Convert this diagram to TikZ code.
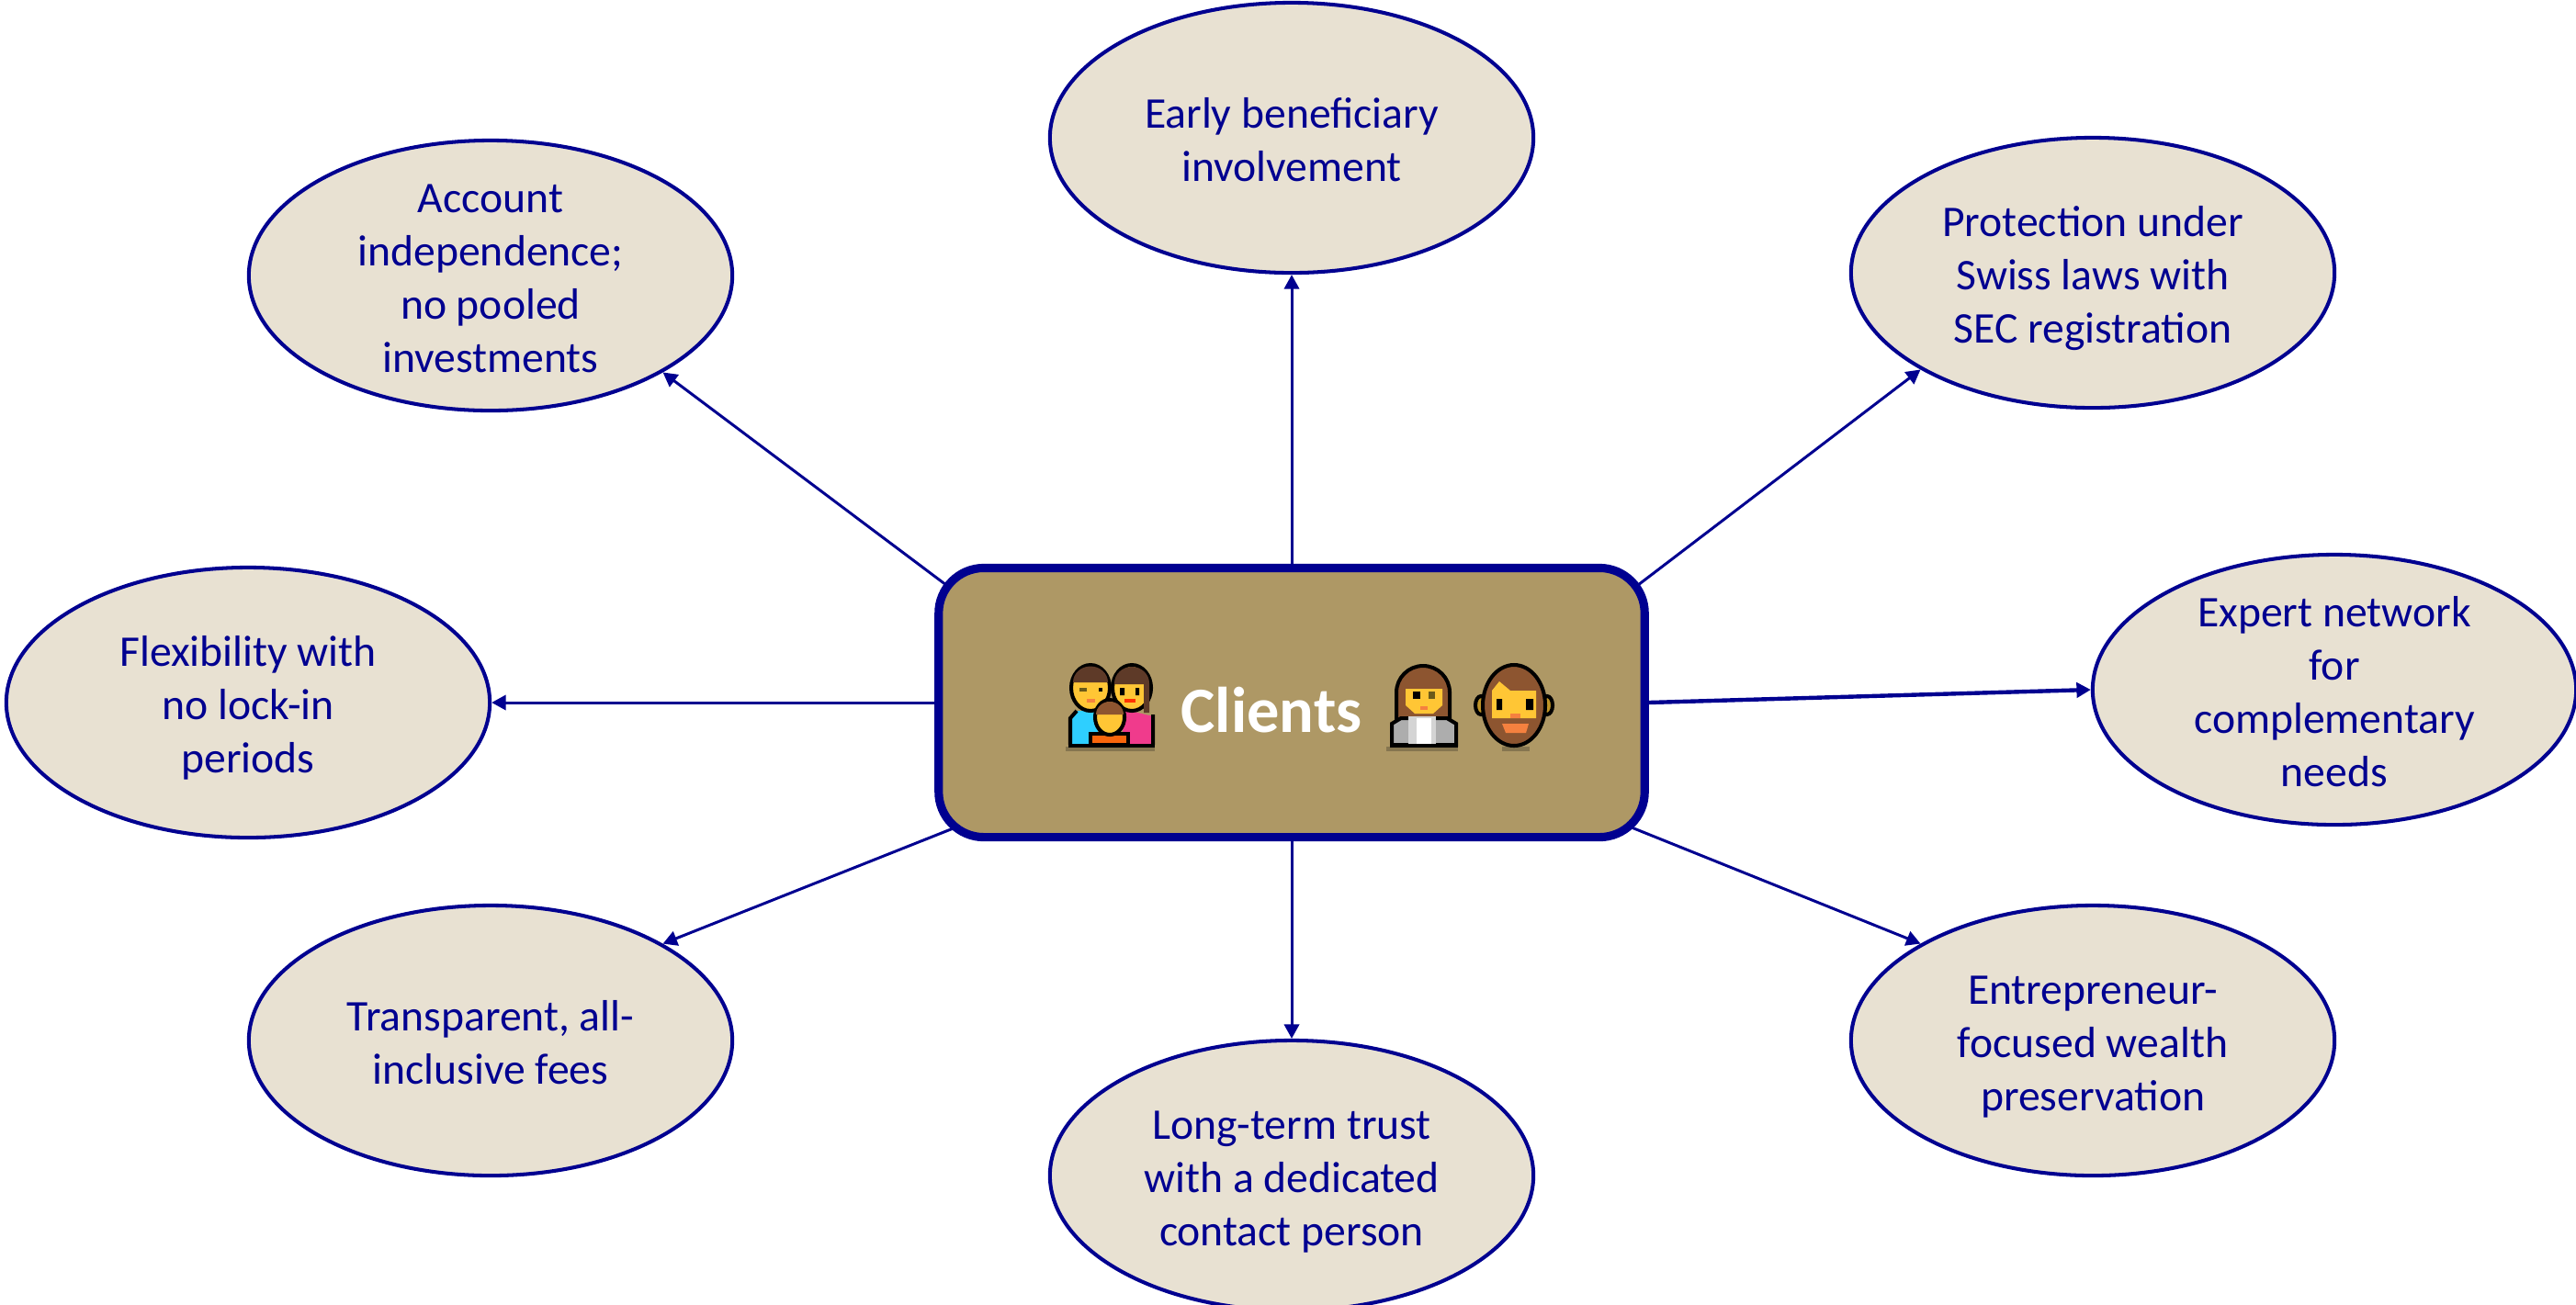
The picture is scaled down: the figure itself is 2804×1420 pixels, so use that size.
\documentclass[tikz,border=0pt]{standalone}
\usepackage{fontspec}
\setmainfont{Carlito}
\usetikzlibrary{arrows.meta,shapes.geometric}
\definecolor{navy}{HTML}{000090}
\definecolor{boxfill}{HTML}{AE9865}
\definecolor{ovalfill}{HTML}{E8E1D2}
\definecolor{skin}{HTML}{FFC635}
\definecolor{hairA}{HTML}{5E3A28}
\definecolor{hairB}{HTML}{8D5530}
\definecolor{shirtB}{HTML}{2ECFFF}
\definecolor{shirtP}{HTML}{F03B8C}
\definecolor{shirtO}{HTML}{F9660C}
\definecolor{nosec}{HTML}{F5813F}
\definecolor{dropc}{HTML}{85754F}
\definecolor{eyeo}{HTML}{6B5A1A}
\newcommand\topfix{\rule{0pt}{13.5pt}}
\newcommand\botfix{\rule[-3pt]{0pt}{3pt}}
\tikzset{
  oval/.style={draw=navy,fill=ovalfill,ellipse,line width=1.15pt,minimum width=5.26cm,minimum height=2.94cm,inner xsep=0pt,inner ysep=-14pt,align=center,text=navy,font=\fontsize{13.55pt}{16.5pt}\selectfont},
  hub/.style={draw=navy,fill=boxfill,line width=2.6pt,rounded corners=14pt,minimum width=7.68cm,minimum height=2.93cm,inner sep=0pt},
  link/.style={draw=navy,line width=0.85pt,-{Triangle[length=4.4pt,width=4.6pt]}},
  linkbold/.style={link,line width=1.25pt},
  ol/.style={draw=black,line width=1.15pt},
}
\begin{document}
\begin{tikzpicture}[x=0.01cm,y=-0.01cm]
\useasboundingbox (0,0) rectangle (2804,1420);
\clip (0,0) rectangle (2804,1420);
\node[oval] (t) at (1406,150) {\topfix Early beneficiary\\involvement\botfix};
\node[oval] (tl) at (534,300) {\topfix Account\\independence;\\no pooled\\investments\botfix};
\node[oval] (tr) at (2278,297) {\topfix Protection under\\Swiss laws with\\SEC registration\botfix};
\node[oval] (r) at (2541,751) {\topfix Expert network\\for\\complementary\\needs\botfix};
\node[oval] (l) at (270,765) {\topfix Flexibility with\\no lock-in\\periods\botfix};
\node[oval] (bl) at (534,1133) {\topfix Transparent, all-\\inclusive fees\botfix};
\node[oval] (br) at (2278,1133) {\topfix Entrepreneur-\\focused wealth\\preservation\botfix};
\node[oval] (b) at (1406,1280) {\topfix Long-term trust\\with a dedicated\\contact person\botfix};
\node[hub] (hub) at (1406,765) {};
\coordinate (c1) at (1030,637);
\coordinate (c2) at (1783,637);
\coordinate (c3) at (1040,901);
\coordinate (c4) at (1776,901);
\draw[link] (hub.north) -- (t.south);
\draw[link] (c1) -- (tl.south east);
\draw[link] (c2) -- (tr.south west);
\draw[linkbold] (hub.east) -- (r.west);
\draw[link] (hub.west) -- (l.east);
\draw[link] (c3) -- (bl.north east);
\draw[link] (c4) -- (br.north west);
\draw[link] (hub.south) -- (b.north);
\node[anchor=base west,inner sep=0pt,text=white,font=\fontsize{20pt}{22pt}\selectfont\bfseries] (lbl) at (1285,797) {Clients};
% family emoji
\fill[dropc] (1160,813) rectangle (1257,818);
\fill[shirtB] (1165,812) -- (1165,782) -- (1172,774) -- (1195,774) -- (1195,812) -- cycle;
\fill[shirtP] (1255,812) -- (1255,780) -- (1222,772) -- (1222,812) -- cycle;
\draw[ol] (1165,811) -- (1165,782) -- (1172,774) (1255,811) -- (1255,778);
% left parent
\draw[ol,fill=skin] (1187,749) ellipse [x radius=21,y radius=25];
\fill[hairA] (1168,743) arc[start angle=180,end angle=360,x radius=19,y radius=17.5] -- cycle;
\fill[eyeo] (1175,749) rectangle (1183,753);
\fill[black] (1196,749) rectangle (1200,753);
\fill[nosec] (1183,761) rectangle (1192,765);
% right parent
\draw[ol,fill=skin] (1232,749) ellipse [x radius=21,y radius=25];
\fill[hairA] (1213,745) -- (1213,744) arc[start angle=180,end angle=360,x radius=19,y radius=18] -- (1251,776) -- (1245,776) -- (1245,745) -- cycle;
\fill[black] (1219,749) rectangle (1224,757) (1236,749) rectangle (1240,757);
\fill[red!60!orange] (1224,761) rectangle (1236,765);
% child
\draw[ol,fill=shirtO] (1187,811) -- (1187,799) -- (1228,799) -- (1228,811) -- cycle;
\draw[ol,fill=skin] (1208,781) ellipse [x radius=16,y radius=19];
\fill[hairB] (1193,778) arc[start angle=180,end angle=360,x radius=15,y radius=14] -- cycle;
\fill[black] (1163,810) rectangle (1257,814);
% woman emoji
\fill[dropc] (1509,813) rectangle (1587,818);
\draw[ol,fill=hairB] (1520,786) -- (1520,754) arc[start angle=180,end angle=360,x radius=29,y radius=29] -- (1578,786) -- cycle;
\fill[skin] (1530,750) -- (1570,750) -- (1570,768) -- (1560,777) -- (1540,777) -- (1530,768) -- cycle;
\fill[black] (1538,753) rectangle (1546,761);
\fill[eyeo] (1555,753) rectangle (1562,761);
\fill[nosec] (1546,769) rectangle (1554,773);
\draw[ol,fill=black!32] (1515,811) -- (1515,788) -- (1525,782) -- (1575,782) -- (1585,788) -- (1585,811) -- cycle;
\fill[black!17] (1533,780) rectangle (1563,810);
\fill[white] (1542,782) rectangle (1558,810);
\fill[black] (1513,810) rectangle (1587,814);
% man emoji
\fill[dropc] (1635,813) rectangle (1665,818);
\draw[ol,fill=skin!75!black] (1612,768) ellipse [x radius=6,y radius=10];
\draw[ol,fill=skin!75!black] (1684,768) ellipse [x radius=6,y radius=10];
\draw[ol,fill=hairB] (1648,768) ellipse [x radius=34,y radius=44];
\fill[skin] (1624,782) -- (1624,752) -- (1632,742) -- (1644,752) -- (1672,752) -- (1672,782) -- cycle;
\fill[black] (1629,761) rectangle (1635,773) (1661,761) rectangle (1669,773);
\fill[nosec] (1644,777) rectangle (1655,782);
\fill[nosec] (1635,788) -- (1664,788) -- (1661,798) -- (1639,798) -- cycle;
\end{tikzpicture}
\end{document}
